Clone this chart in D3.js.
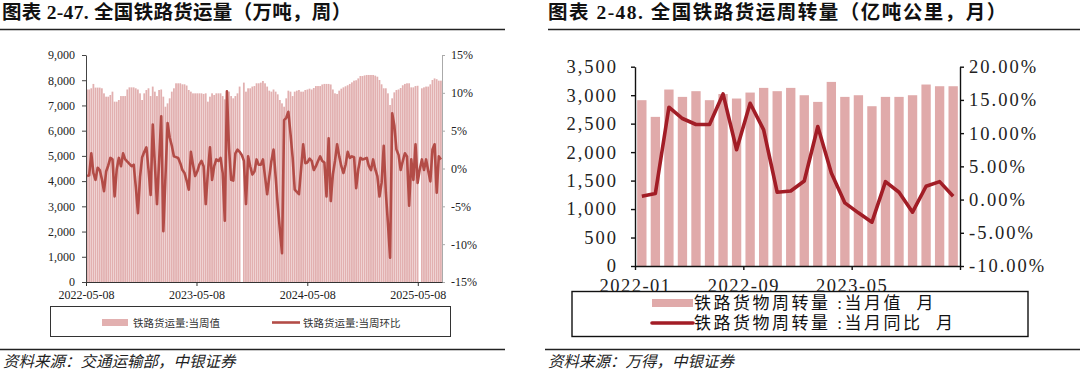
<!DOCTYPE html>
<html><head><meta charset="utf-8">
<script src="https://cdn.jsdelivr.net/npm/d3@7"></script>
<style>
body{margin:0;background:#fff;}
svg{display:block;}
</style></head><body>
<svg id="c" width="1080" height="373"></svg>
<script>
// ---------- Left chart data (weekly) ----------
const weekStart = "2022-05-08";
const weekCount = 168;
const weeklyVolume = [
 7633,7633,7680,7853,7707,7707,7707,7680,7480,7348,
 7348,7414,7547,7150,7150,7216,7372,7372,7372,7633,
 7717,7717,7717,7680,7633,7480,7216,7480,7613,7680,
 7372,7748,7547,7372,7613,7633,7348,6950,7083,7282,
 7547,7680,7878,7878,7878,7838,7838,7790,7613,7547,
 7480,7480,7480,7480,7480,7456,7480,7150,7348,7480,
 7414,7480,7480,7480,7372,7242,7586,7547,7372,7282,
 7372,7480,7748,null,7905,7547,7680,7680,7748,7769,
 7878,7878,7905,7970,7878,7748,7586,7547,7633,7547,
 7440,7216,7083,6950,7282,7586,7547,7372,7547,7586,
 7613,7547,7547,7613,7633,7665,7633,7691,7769,7769,
 7769,7832,7853,7853,7853,7832,7633,7480,7456,7586,
 7665,7717,7759,7800,7853,7915,7983,7999,8072,8166,
 8166,8192,8208,8208,8208,8208,8182,8140,8009,7838,
 7680,7680,7480,7017,7282,7519,7613,7633,7691,7800,
 7853,7878,7878,7717,7717,7769,7780,null,7680,7717,
 7748,7748,7838,8009,8072,8041,7983,7983];
const weeklyWoW = [
 -1.0,-0.9,2.0,-0.6,-1.5,0.1,-0.2,-1.4,-3.0,-0.4,
 0.4,1.4,1.2,-3.7,-0.1,1.4,0.3,2.0,1.2,0.9,
 0.6,0.3,0.5,-2.4,-5.9,-1.1,1.5,2.2,2.8,-0.1,
 -3.5,5.8,0.5,-4.7,1.0,6.9,-8.3,-1.1,6.0,4.1,
 3.0,1.6,1.5,1.4,0.7,-0.2,-0.6,-1.6,-2.8,2.2,
 0.5,-1.0,-0.4,0.5,1.0,0.3,-4.7,-0.6,2.8,-1.5,
 0.3,1.2,1.0,1.4,-0.6,-6.9,10.2,2.6,-1.5,-1.6,
 2.0,2.5,2.2,1.8,1.0,-4.7,1.6,0.3,-0.8,-0.4,
 1.2,0.5,0.5,1.2,-1.1,-3.4,-1.1,1.0,2.5,-1.1,
 -4.9,-8.1,-11.2,6.4,6.7,7.5,4.6,1.5,-2.8,-3.1,
 -3.4,-0.1,3.2,0.7,0.8,1.3,1.0,-0.2,0.3,1.0,
 1.6,1.0,0.8,-3.7,4.0,-4.3,-0.8,1.0,3.2,1.6,
 0.3,-0.6,0.5,2.2,1.4,1.6,1.5,-2.6,-0.1,1.4,
 1.2,1.3,1.4,0.3,-0.2,1.2,-0.1,-1.0,-3.7,-1.9,
 3.0,-3.2,-7.3,-11.8,7.3,5.7,2.5,1.8,-0.2,1.0,
 2.0,1.6,-4.9,1.2,-1.5,3.2,-1.9,-0.1,1.2,-0.2,
 1.2,-0.3,-1.7,2.5,3.2,-3.2,1.6,1.2];
const leftXTicks = ["2022-05-08","2023-05-08","2024-05-08","2025-05-08"];
const leftYTicks = [0,1000,2000,3000,4000,5000,6000,7000,8000,9000];
const leftY2Ticks = [-15,-10,-5,0,5,10,15];
const leftLegend = ["铁路货运量:当周值","铁路货运量:当周环比"];

// ---------- Right chart data (monthly) ----------
const months = ["2022-01","2022-02","2022-03","2022-04","2022-05","2022-06","2022-07","2022-08","2022-09","2022-10","2022-11","2022-12",
                "2023-01","2023-02","2023-03","2023-04","2023-05","2023-06","2023-07","2023-08","2023-09","2023-10","2023-11","2023-12"];
const turnover = [2912,2619,3099,2970,3070,2912,3020,2941,3046,3128,3070,3128,2999,2882,3233,2970,2999,2806,2970,2970,2999,3187,3157,3157];
const turnoverYoY = [0.5,0.9,13.9,12.2,11.3,11.3,15.9,7.5,14.5,10.5,1.1,1.3,2.8,11.0,4.0,-0.5,-2.0,-3.4,2.7,1.1,-1.9,2.0,2.7,0.5];
const rightXTickIdx = [0,8,16,24];
const rightYTicks = [0,500,1000,1500,2000,2500,3000,3500];
const rightY2Ticks = [-10,-5,0,5,10,15,20];
const rightLegend = ["铁路货物周转量 :当月值  月","铁路货物周转量 :当月同比  月"];

const svg = d3.select("#c");
const SERIF = "'Liberation Serif','Times New Roman',serif";
const CJK = "'Liberation Serif','Noto Sans CJK SC',sans-serif";

// ---------- titles & rules ----------
svg.append("text").attr("x",2).attr("y",19).text("图表 2-47. 全国铁路货运量（万吨，周）")
  .style("font-family",CJK).style("font-weight","bold").style("font-size","19.5px").style("letter-spacing","0.3px").attr("fill","#111");
svg.append("text").attr("x",548).attr("y",19).text("图表 2-48. 全国铁路货运周转量（亿吨公里，月）")
  .style("font-family",CJK).style("font-weight","bold").style("font-size","19.5px").style("letter-spacing","1.5px").attr("fill","#111");
svg.append("line").attr("x1",0).attr("x2",505).attr("y1",29.5).attr("y2",29.5).attr("stroke","#222").attr("stroke-width",1.5);
svg.append("line").attr("x1",548).attr("x2",1080).attr("y1",29.5).attr("y2",29.5).attr("stroke","#222").attr("stroke-width",1.5);
svg.append("line").attr("x1",0).attr("x2",505).attr("y1",349.5).attr("y2",349.5).attr("stroke","#222").attr("stroke-width",1.5);
svg.append("line").attr("x1",545).attr("x2",1080).attr("y1",349.5).attr("y2",349.5).attr("stroke","#222").attr("stroke-width",1.5);
svg.append("text").attr("x",3).attr("y",367).text("资料来源：交通运输部，中银证券")
  .style("font-family","'Noto Sans CJK SC'").style("font-style","italic").style("font-size","15.5px").attr("fill","#222");
svg.append("text").attr("x",548).attr("y",367).text("资料来源：万得，中银证券")
  .style("font-family","'Noto Sans CJK SC'").style("font-style","italic").style("font-size","15.5px").attr("fill","#222");

// ---------- LEFT CHART ----------
const parse = d3.timeParse("%Y-%m-%d");
const start = parse(weekStart);
const weeks = d3.range(weekCount).map(i => d3.timeDay.offset(start, 7*i));
const xL = d3.scaleTime().domain([start, d3.timeDay.offset(start, 7*weekCount)]).range([86,442]);
const yL = d3.scaleLinear().domain([0,9000]).range([282,55]);
const yL2 = d3.scaleLinear().domain([-15,15]).range([282,55]);
const bw = xL(weeks[1]) - xL(weeks[0]);

const L = svg.append("g");
L.selectAll("rect.bar").data(weeks.map((d,i)=>({d, v:weeklyVolume[i]})).filter(o=>o.v!=null))
  .enter().append("rect")
  .attr("x", o=>xL(o.d)+0.15).attr("width", bw-0.35)
  .attr("y", o=>yL(o.v)).attr("height", o=>yL(0)-yL(o.v))
  .attr("fill","#e2b0b0");

const lineL = d3.line().x((v,i)=>xL(weeks[i])+bw/2).y(v=>yL2(v)).curve(d3.curveLinear);
L.append("path").attr("d", lineL(weeklyWoW)).attr("fill","none")
  .attr("stroke","#b34c47").attr("stroke-width",2.6).attr("stroke-linejoin","round");

function styleAxis(g, size, color, family){
  g.selectAll("text").style("font-family",family||SERIF).style("font-size",size).attr("fill","#222");
  g.selectAll("line").attr("stroke",color);
  g.select(".domain").attr("stroke",color);
}
const axL = L.append("g").attr("transform","translate(86,0)")
  .call(d3.axisLeft(yL).tickValues(leftYTicks).tickFormat(d3.format(",")).tickSize(4).tickSizeOuter(0).tickPadding(7));
styleAxis(axL,"12px","#444");
const axR = L.append("g").attr("transform","translate(442,0)")
  .call(d3.axisRight(yL2).tickValues(leftY2Ticks).tickFormat(d=>d+"%").tickSize(3).tickSizeOuter(0).tickPadding(6));
styleAxis(axR,"12px","#aaa");
const axB = L.append("g").attr("transform","translate(0,282)")
  .call(d3.axisBottom(xL).tickValues(leftXTicks.map(parse)).tickFormat(d3.timeFormat("%Y-%m-%d")).tickSize(4).tickSizeOuter(0).tickPadding(4));
styleAxis(axB,"12px","#333");

// left legend
const lg = svg.append("g");
lg.append("rect").attr("x",50.5).attr("y",306.5).attr("width",400).attr("height",30).attr("fill","#fff").attr("stroke","#333").attr("stroke-width",1);
lg.append("rect").attr("x",102).attr("y",319).attr("width",26).attr("height",7).attr("fill","#e2b0b0");
lg.append("text").attr("x",133).attr("y",326.5).text(leftLegend[0]).style("font-family","'Noto Sans CJK SC'").style("font-size","10.5px").attr("fill","#333");
lg.append("line").attr("x1",272).attr("x2",300).attr("y1",322.5).attr("y2",322.5).attr("stroke","#b34c47").attr("stroke-width",2.6);
lg.append("text").attr("x",303).attr("y",326.5).text(leftLegend[1]).style("font-family","'Noto Sans CJK SC'").style("font-size","10.5px").attr("fill","#333");

// ---------- RIGHT CHART ----------
const R = svg.append("g");
const xR = d3.scaleBand().domain(months).range([635,960]).paddingInner(0.31).paddingOuter(0.16);
const xRi = d3.scaleLinear().domain([0,24]).range([635,960]);
const yR = d3.scaleLinear().domain([0,3500]).range([266,66.7]);
const yR2 = d3.scaleLinear().domain([-10,20]).range([266,66.7]);

R.selectAll("rect.bar").data(months).enter().append("rect")
  .attr("x", m=>xR(m)).attr("width", xR.bandwidth())
  .attr("y", (m,i)=>yR(turnover[i])).attr("height",(m,i)=>yR(0)-yR(turnover[i]))
  .attr("fill","#e0aaaa");
const lineR = d3.line().x((v,i)=>xR(months[i])+xR.bandwidth()/2).y(v=>yR2(v));
R.append("path").attr("d", lineR(turnoverYoY)).attr("fill","none")
  .attr("stroke","#a21d26").attr("stroke-width",3.6).attr("stroke-linejoin","round");

const rAxL = R.append("g").attr("transform","translate(635,0)")
  .call(d3.axisLeft(yR).tickValues(rightYTicks).tickFormat(d3.format(",")).tickSize(4).tickSizeOuter(0).tickPadding(13));
styleAxis(rAxL,"18.5px","#111");
rAxL.selectAll("text").style("letter-spacing","2px");
const rAxR = R.append("g").attr("transform","translate(960,0)")
  .call(d3.axisRight(yR2).tickValues(rightY2Ticks).tickFormat(d=>d.toFixed(2)+"%").tickSize(4).tickSizeOuter(0).tickPadding(5));
styleAxis(rAxR,"18.5px","#111");
rAxR.selectAll("text").style("letter-spacing","2px");
const rAxB = R.append("g").attr("transform","translate(0,266)")
  .call(d3.axisBottom(xRi).tickValues(rightXTickIdx).tickFormat(i=>i<24?months[i]:"").tickSize(4).tickSizeOuter(0).tickPadding(9));
styleAxis(rAxB,"18.5px","#111");
rAxB.selectAll("text").style("letter-spacing","1.5px");
R.selectAll(".domain").attr("stroke-width",1.4);
R.selectAll(".tick line").attr("stroke-width",1.4);

// right legend
const LEGF = "'Liberation Serif','Noto Sans CJK SC',sans-serif";
const rg = svg.append("g");
rg.append("rect").attr("x",572).attr("y",291.5).attr("width",456).attr("height",45).attr("fill","#fff").attr("stroke","#111").attr("stroke-width",1.4);
rg.append("rect").attr("x",652).attr("y",299).attr("width",41).attr("height",8).attr("fill","#e0aaaa");
rg.append("text").attr("x",694).attr("y",309).text(rightLegend[0]).style("font-family",LEGF).style("white-space","pre").style("font-size","17px").style("letter-spacing","2.5px").attr("fill","#111");
rg.append("line").attr("x1",652).attr("x2",693).attr("y1",323).attr("y2",323).attr("stroke","#a21d26").attr("stroke-width",3.6).attr("stroke-linecap","round");
rg.append("text").attr("x",694).attr("y",329).text(rightLegend[1]).style("font-family",LEGF).style("white-space","pre").style("font-size","17px").style("letter-spacing","2.5px").attr("fill","#111");
</script>
</body></html>
